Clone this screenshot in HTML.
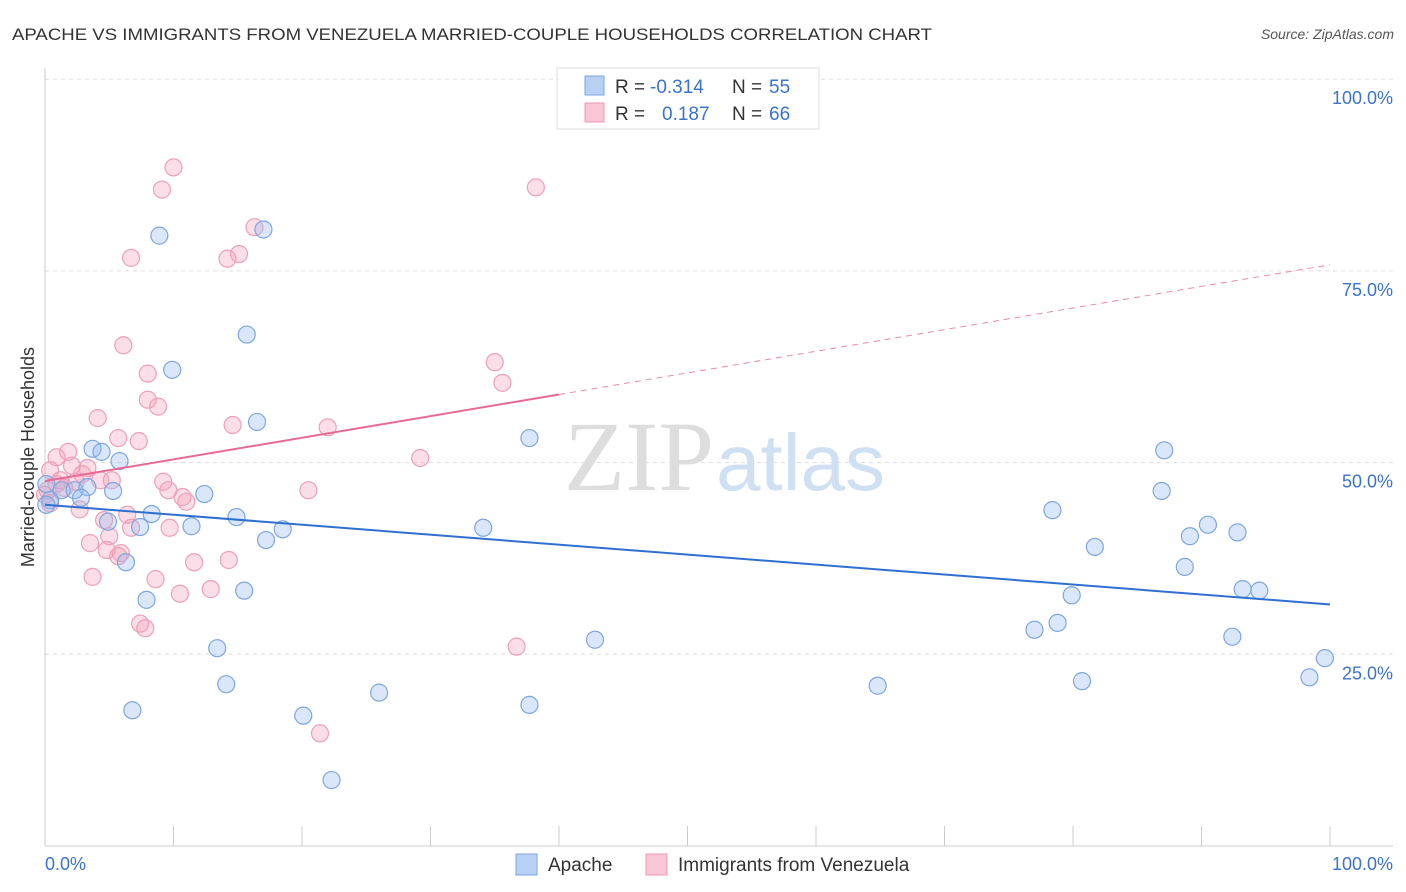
<!DOCTYPE html>
<html><head><meta charset="utf-8"><style>
body{margin:0;background:#fff;font-family:"Liberation Sans",sans-serif}
svg{display:block}
</style></head><body>
<svg width="1406" height="892">
<text x="12" y="40" font-size="17" fill="#333" textLength="920" lengthAdjust="spacingAndGlyphs">APACHE VS IMMIGRANTS FROM VENEZUELA MARRIED-COUPLE HOUSEHOLDS CORRELATION CHART</text>
<text x="1394" y="39" font-size="14" fill="#555" font-style="italic" text-anchor="end">Source: ZipAtlas.com</text>
<g id="grid"></g>
<text x="714" y="490" font-size="100" fill="#ddd" text-anchor="end" font-family="Liberation Serif">ZIP</text>
<text x="716" y="490" font-size="80" fill="#cfe0f3">atlas</text>
<g id="pts"></g>
<text transform="translate(34,457) rotate(-90)" font-size="18" fill="#333" text-anchor="middle">Married-couple Households</text>
<g>
<rect x="557" y="68" width="262" height="61" fill="#fff" stroke="#ddd"/>
<rect x="585" y="76" width="19" height="19" fill="#b8d0f3" stroke="#7ea6e0"/>
<rect x="585" y="103" width="19" height="19" fill="#f8c6d4" stroke="#ee9ab4"/>
<text x="615" y="93" font-size="19" fill="#333">R =</text>
<text x="650" y="93" font-size="19" fill="#3b73c9">-0.314</text>
<text x="732" y="93" font-size="19" fill="#333">N =</text>
<text x="769" y="93" font-size="19" fill="#3b73c9">55</text>
<text x="615" y="120" font-size="19" fill="#333">R =</text>
<text x="662" y="120" font-size="19" fill="#3b73c9">0.187</text>
<text x="732" y="120" font-size="19" fill="#333">N =</text>
<text x="769" y="120" font-size="19" fill="#3b73c9">66</text>
</g>
<g>
<rect x="516" y="854" width="21" height="21" fill="#b8d0f3" stroke="#7ea6e0"/>
<text x="548" y="871" font-size="19" fill="#333">Apache</text>
<rect x="646" y="854" width="21" height="21" fill="#f8c6d4" stroke="#ee9ab4"/>
<text x="678" y="871" font-size="19" fill="#333">Immigrants from Venezuela</text>
</g>
<text x="45" y="870" font-size="18" fill="#3b73c9">0.0%</text>
<text x="1393" y="870" font-size="18" fill="#3b73c9" text-anchor="end">100.0%</text>
</svg>
<script>
const yTicks=[100,75,50,25];
const yTickLabels=["100.0%","75.0%","50.0%","25.0%"];
const apacheX=[8.9,17.0,15.7,9.9,16.5,3.7,4.4,5.8,37.7,87.1,86.9,0.1,1.3,2.3,3.3,5.3,2.8,0.4,12.4,8.3,14.9,4.9,7.4,11.4,18.5,17.2,34.1,78.4,90.5,89.1,92.8,81.7,6.3,88.7,7.9,15.5,79.9,93.2,94.5,77.0,78.8,92.4,42.8,13.4,99.6,98.4,14.1,26.0,64.8,80.7,6.8,37.7,20.1,22.3,0.1];
const apacheY=[79.6,80.4,66.7,62.1,55.3,51.8,51.4,50.2,53.2,51.6,46.3,47.2,46.4,46.4,46.8,46.3,45.4,45.1,45.9,43.3,42.9,42.3,41.6,41.7,41.3,39.9,41.5,43.8,41.9,40.4,40.9,39.0,37.0,36.4,32.1,33.3,32.7,33.5,33.3,28.2,29.1,27.3,26.9,25.8,24.5,22.0,21.1,20.0,20.9,21.5,17.7,18.4,17.0,8.6,44.5];
const venX=[10.0,9.1,38.2,16.3,15.1,14.2,6.7,6.1,35.0,35.6,8.0,8.0,8.8,4.1,14.6,22.0,5.7,7.3,1.8,29.2,0.9,2.1,3.3,2.9,4.3,5.2,9.2,1.2,2.4,20.5,9.6,10.7,11.0,0,0.4,2.7,6.4,4.6,6.7,9.7,5.0,3.5,4.8,5.9,5.7,11.6,14.3,3.7,8.6,12.9,10.5,7.4,7.8,36.7,21.4,0.2,0.9,1.5,0.4];
const venY=[88.5,85.6,85.9,80.7,77.2,76.6,76.7,65.3,63.1,60.4,61.6,58.2,57.3,55.8,54.9,54.6,53.2,52.8,51.4,50.6,50.7,49.6,49.3,48.5,47.7,47.7,47.5,47.7,47.5,46.4,46.4,45.5,44.9,45.8,44.7,43.9,43.2,42.5,41.5,41.5,40.4,39.5,38.6,38.2,37.8,37.0,37.3,35.1,34.8,33.5,32.9,29.0,28.4,26.0,14.7,46.4,47.2,46.7,49.0];
const apacheTrend=[44.5,31.5];
const venTrend=[47.6,75.8];
const venSolidEnd=40;
const NS="http://www.w3.org/2000/svg";
const sx=v=>45+v*12.85, sy=v=>846-v*7.668;
function mk(t,a,p){const e=document.createElementNS(NS,t);for(const k in a)e.setAttribute(k,a[k]);p.appendChild(e);return e;}
const g=document.getElementById('grid');
yTicks.forEach((t,i)=>{
 const l=mk('line',{x1:45,x2:1393,y1:sy(t),y2:sy(t),stroke:'#ddd','stroke-dasharray':'4,4'},g);
 
 
 const tx=mk('text',{x:1393,y:sy(t)+25,'font-size':18,fill:'#3b73c9','text-anchor':'end'},g);
 tx.textContent=yTickLabels[i];
 
 
});
let ax=mk('line',{x1:45,x2:45,y1:68,y2:846,stroke:'#ccc'},g);


ax=mk('line',{x1:45,x2:1393,y1:846,y2:846,stroke:'#ccc'},g);


for(let i=0;i<=10;i++){const t=mk('line',{x1:sx(i*10),x2:sx(i*10),y1:826,y2:846,stroke:'#ccc'},g);
 
 }
const p=document.getElementById('pts');
venX.forEach((x,i)=>{const c=mk('circle',{cx:sx(x),cy:sy(venY[i]),r:8.5,fill:'rgba(244,160,186,0.35)',stroke:'#eea0b8','stroke-width':1.2},p);
 
 });
apacheX.forEach((x,i)=>{const c=mk('circle',{cx:sx(x),cy:sy(apacheY[i]),r:8.5,fill:'rgba(150,185,240,0.35)',stroke:'#7ea6e0','stroke-width':1.2},p);
 
 });
const vy=x=>venTrend[0]+(venTrend[1]-venTrend[0])*x/100;
let l=mk('line',{x1:sx(0),y1:sy(apacheTrend[0]),x2:sx(100),y2:sy(apacheTrend[1]),stroke:'#2f6fd0','stroke-width':2},p);


l=mk('line',{x1:sx(0),y1:sy(vy(0)),x2:sx(venSolidEnd),y2:sy(vy(venSolidEnd)),stroke:'#e66a94','stroke-width':2},p);


l=mk('line',{x1:sx(venSolidEnd),y1:sy(vy(venSolidEnd)),x2:sx(100),y2:sy(vy(100)),stroke:'#e88aaa','stroke-width':1,'stroke-dasharray':'6,5'},p);


</script>
</body></html>
